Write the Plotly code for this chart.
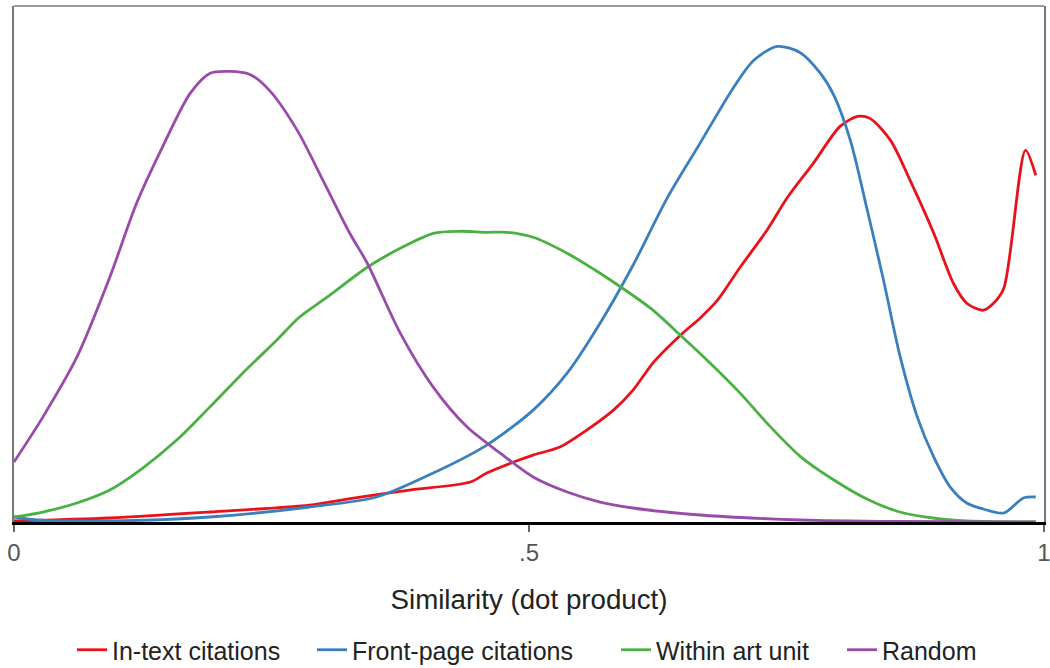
import plotly.graph_objects as go

# Kernel density of similarity scores (dot product) for four pair types
in_text_x = [0.000, 0.093, 0.190, 0.287, 0.336, 0.384, 0.443, 0.459, 0.485, 0.504,
             0.530, 0.556, 0.582, 0.601, 0.621, 0.647, 0.666, 0.683, 0.705, 0.731,
             0.751, 0.776, 0.802, 0.819, 0.831, 0.851, 0.870, 0.893, 0.912, 0.925,
             0.941, 0.951, 0.961, 0.982, 0.992]
in_text_y = [0.01, 0.04, 0.10, 0.17, 0.25, 0.32, 0.40, 0.49, 0.60, 0.67,
             0.75, 0.92, 1.12, 1.32, 1.60, 1.87, 2.04, 2.22, 2.55, 2.92,
             3.25, 3.59, 3.96, 4.06, 4.04, 3.82, 3.42, 2.89, 2.39, 2.19,
             2.12, 2.19, 2.34, 3.72, 3.47]

front_page_x = [0.000, 0.022, 0.093, 0.190, 0.287, 0.352, 0.407, 0.459, 0.504, 0.537,
                0.569, 0.601, 0.634, 0.666, 0.698, 0.718, 0.741, 0.763, 0.783, 0.796,
                0.812, 0.828, 0.844, 0.860, 0.877, 0.893, 0.909, 0.925, 0.941, 0.961,
                0.980, 0.992]
front_page_y = [0.05, 0.02, 0.01, 0.05, 0.15, 0.25, 0.49, 0.77, 1.12, 1.49,
                1.99, 2.57, 3.24, 3.79, 4.34, 4.62, 4.76, 4.70, 4.49, 4.27,
                3.82, 3.14, 2.43, 1.67, 1.05, 0.65, 0.35, 0.19, 0.13, 0.09,
                0.24, 0.25]

art_unit_x = [0.000, 0.028, 0.061, 0.093, 0.125, 0.158, 0.190, 0.222, 0.255, 0.277,
              0.304, 0.343, 0.375, 0.407, 0.433, 0.459, 0.479, 0.504, 0.537, 0.569,
              0.588, 0.618, 0.647, 0.676, 0.705, 0.731, 0.763, 0.796, 0.828, 0.860,
              0.892, 0.925, 0.958, 0.992]
art_unit_y = [0.05, 0.10, 0.19, 0.32, 0.54, 0.82, 1.15, 1.49, 1.82, 2.05,
              2.25, 2.55, 2.74, 2.89, 2.91, 2.90, 2.90, 2.85, 2.69, 2.49,
              2.36, 2.14, 1.87, 1.59, 1.29, 0.99, 0.66, 0.42, 0.23, 0.10,
              0.04, 0.01, 0.003, 0.0]

random_x = [0.000, 0.028, 0.061, 0.093, 0.119, 0.144, 0.171, 0.190, 0.209, 0.229,
            0.248, 0.275, 0.300, 0.326, 0.343, 0.375, 0.407, 0.440, 0.472, 0.504,
            0.537, 0.569, 0.601, 0.666, 0.715, 0.763, 0.812, 0.860, 0.958, 0.992]
random_y = [0.60, 1.05, 1.65, 2.45, 3.19, 3.75, 4.29, 4.49, 4.51, 4.48,
            4.32, 3.92, 3.42, 2.89, 2.59, 1.89, 1.35, 0.95, 0.69, 0.45,
            0.30, 0.20, 0.14, 0.07, 0.04, 0.02, 0.01, 0.005, 0.001, 0.0]

series = [
    ("In-text citations", in_text_x, in_text_y, "#E8131A"),
    ("Front-page citations", front_page_x, front_page_y, "#3A7FBE"),
    ("Within art unit", art_unit_x, art_unit_y, "#4BB043"),
    ("Random", random_x, random_y, "#9A4BAA"),
]

tick_vals = [0, 0.5, 1]
tick_text = ["0", ".5", "1"]

FONT = "Arial, Liberation Sans, sans-serif"
W, H = 1050, 668

# one legend per series so each key sits at its own spot along the bottom
legend_left_px = [72, 312, 616, 842]
legend_names = ["legend", "legend2", "legend3", "legend4"]

fig = go.Figure()
for (name, xs, ys, color), lg in zip(series, legend_names):
    fig.add_trace(go.Scatter(
        x=xs, y=ys, name=name, mode="lines", legend=lg,
        line=dict(color=color, width=2.8, shape="spline", smoothing=0.8),
    ))

legend_layout = {}
for lg, lx in zip(legend_names, legend_left_px):
    legend_layout[lg] = dict(
        orientation="h", xref="container", x=lx / W, xanchor="left",
        yref="container", y=(H - 650) / H, yanchor="middle",
        font=dict(size=25, color="#222222"), bgcolor="rgba(0,0,0,0)",
    )

fig.update_layout(
    width=W, height=H,
    margin=dict(l=14, r=6, t=6, b=146),
    paper_bgcolor="white", plot_bgcolor="white",
    font=dict(family=FONT, color="#222222"),
    showlegend=True,
    xaxis=dict(
        range=[0, 1], tickvals=tick_vals, ticktext=tick_text,
        automargin=False, ticklabeloverflow="allow",
        ticks="outside", ticklen=7, tickcolor="#666666", tickwidth=1.5,
        tickfont=dict(size=24, color="#555555"),
        showgrid=False, zeroline=False,
        showline=True, linecolor="black", linewidth=3,
        title=dict(text="Similarity (dot product)", font=dict(size=27.7, color="#222222"),
                   standoff=25),
    ),
    yaxis=dict(
        range=[0, 5.165], showticklabels=False, ticks="", automargin=False,
        showgrid=False, zeroline=False,
        showline=True, linecolor="#777777", linewidth=1.5, mirror=True,
    ),
    shapes=[dict(type="line", xref="paper", yref="paper", x0=0, x1=1, y0=1, y1=1,
                 line=dict(color="#777777", width=1.5))],
    **legend_layout,
)

fig.write_html("out.html")
